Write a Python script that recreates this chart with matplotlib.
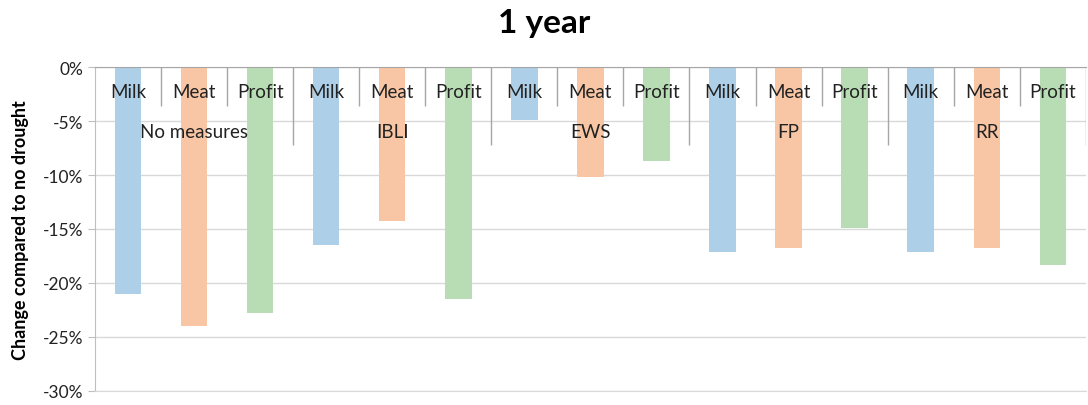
import numpy as np
import matplotlib
matplotlib.use("Agg")
import matplotlib.pyplot as plt
from matplotlib.ticker import FuncFormatter

plt.rcParams['font.family'] = ['Lato', 'DejaVu Sans']

groups = ["No measures", "IBLI", "EWS", "FP", "RR"]
items = ["Milk", "Meat", "Profit"]
milk = [-21.0, -16.5, -4.9, -17.1, -17.1]
meat = [-24.0, -14.3, -10.2, -16.8, -16.8]
profit = [-22.8, -21.5, -8.7, -14.9, -18.3]

colors = {"Milk": "#AECFE8", "Meat": "#F8C6A4", "Profit": "#B8DDB4"}

fig = plt.figure(figsize=(10.88, 4.06), dpi=100)
ax = fig.add_axes([0.0873, 0.0345, 0.9107, 0.798])

n_items = len(items)
for gi, g in enumerate(groups):
    vals = [milk[gi], meat[gi], profit[gi]]
    for ii, it in enumerate(items):
        x = gi * n_items + ii
        ax.bar(x, vals[ii], width=0.4, color=colors[it], zorder=2)
        ax.text(x, -2.3, it, ha='center', va='center', fontsize=13.5, color='#222222', zorder=4)
    ax.text(gi * n_items + 1, -6.0, g, ha='center', va='center', fontsize=13.5, color='#222222', zorder=4)

# separators for the category axis
n = len(groups) * n_items
for b in range(1, n + 1):
    if b % n_items == 0:
        ax.vlines(b - 0.5, -7.2, 0, color='#A6A6A6', lw=1, zorder=3)
    else:
        ax.vlines(b - 0.5, -3.6, 0, color='#A6A6A6', lw=1, zorder=3)

ax.set_xlim(-0.5, n - 0.5)
ax.set_ylim(-30, 0)
ax.set_yticks(np.arange(-30, 1, 5))
ax.yaxis.set_major_formatter(FuncFormatter(lambda v, p: '{:.0f}%'.format(v)))
ax.set_xticks([])
ax.grid(axis='y', color='#D9D9D9', lw=1, zorder=0)
ax.set_axisbelow(True)
ax.spines['right'].set_visible(False)
ax.spines['bottom'].set_color('#D9D9D9')
ax.spines['left'].set_color('#BFBFBF')
ax.spines['top'].set_color('#A6A6A6')
ax.tick_params(axis='y', length=5, color='#BFBFBF', labelsize=12.5, labelcolor='#222222')

ax.set_ylabel("Change compared to no drought", fontsize=13, fontweight='bold', labelpad=10)
fig.text(0.5, 0.942, "1 year", ha='center', va='center', fontsize=24, fontweight='bold')

fig.savefig("out.png", dpi=100)
